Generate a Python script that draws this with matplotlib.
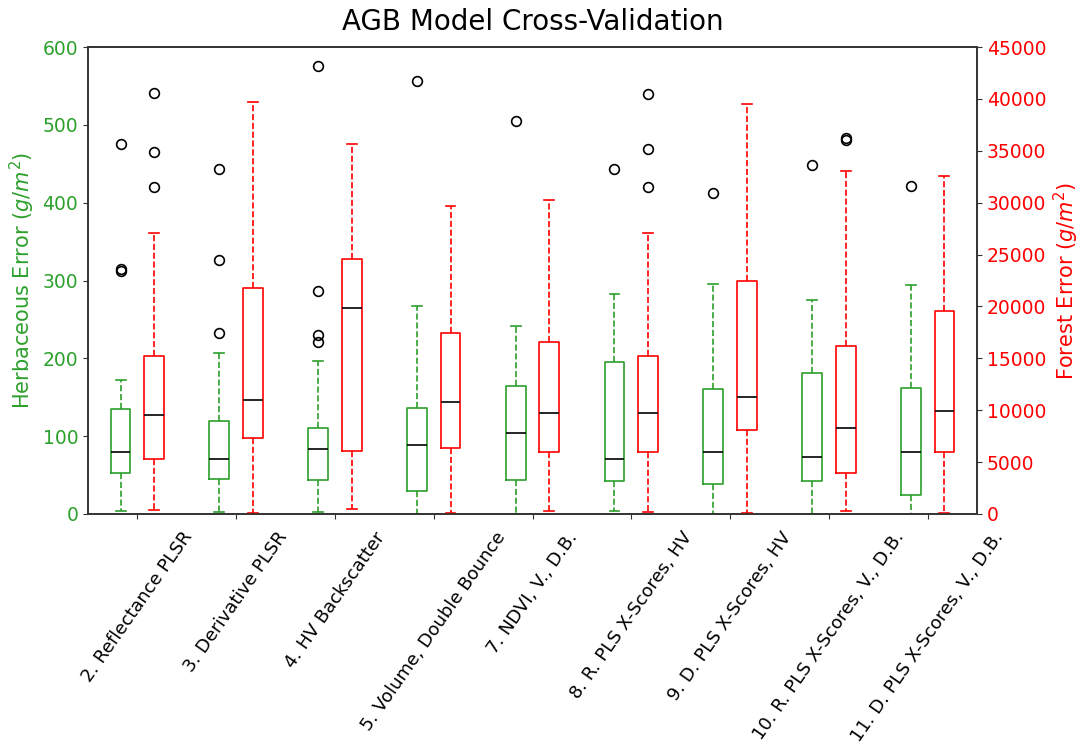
import matplotlib.pyplot as plt

# etiquetas de los modelos
modelos = ['2. Reflectance PLSR', '3. Derivative PLSR', '4. HV Backscatter',
           '5. Volume, Double Bounce', '7. NDVI, V., D.B.',
           '8. R. PLS X-Scores, HV', '9. D. PLS X-Scores, HV',
           '10. R. PLS X-Scores, V., D.B.', '11. D. PLS X-Scores, V., D.B.']

# error herbaceo (g/m2)
herb_lo = [4, 2, 2, 0, 0, 4, 0, 0, 0]
herb_q1 = [52, 45, 44, 29, 44, 42, 39, 43, 25]
herb_med = [79, 71, 83, 88, 104, 70, 79, 73, 79]
herb_q3 = [135, 120, 110, 136, 165, 195, 160, 181, 162]
herb_hi = [172, 207, 197, 267, 241, 283, 295, 275, 294]
herb_out = [[476, 312, 315], [443, 326, 232], [576, 286, 230, 221], [556],
            [505], [443], [413], [449], [421]]

# error forestal (g/m2)
bosq_lo = [380, 50, 450, 50, 320, 190, 50, 290, 50]
bosq_q1 = [5300, 7300, 6100, 6330, 5950, 5950, 8100, 3920, 5950]
bosq_med = [9540, 10980, 19850, 10760, 9760, 9700, 11300, 8260, 9920]
bosq_q3 = [15220, 21750, 24540, 17410, 16600, 15220, 22480, 16190, 19560]
bosq_hi = [27050, 39730, 35650, 29710, 30260, 27050, 39510, 33050, 32600]
bosq_out = [[40540, 34850, 31540], [], [], [], [], [40470, 35170, 31480],
            [], [36000, 36200], []]

verde = '#2ca02c'
rojo = '#ff0000'


def armar_stats(lo, q1, med, q3, hi, out):
    stats = []
    for i in range(len(med)):
        stats.append({'whislo': lo[i], 'q1': q1[i], 'med': med[i],
                      'q3': q3[i], 'whishi': hi[i], 'fliers': out[i]})
    return stats


def dibujar(ax, stats, pos, color):
    ax.bxp(stats, positions=pos, widths=0.2, manage_ticks=False,
           boxprops=dict(color=color, linewidth=1.2),
           whiskerprops=dict(color=color, linestyle='--', linewidth=1.2),
           capprops=dict(color=color, linewidth=1.2),
           medianprops=dict(color='black', linewidth=1.2),
           flierprops=dict(marker='o', markerfacecolor='none',
                           markeredgecolor='black', markersize=7,
                           markeredgewidth=1.2))


plt.rcParams['font.family'] = 'DejaVu Sans'
fig = plt.figure(figsize=(10.81, 7.49), dpi=100)
ax = fig.add_axes([0.0814, 0.3138, 0.8224, 0.6234])
ax2 = ax.twinx()

x = list(range(1, len(modelos) + 1))
dibujar(ax, armar_stats(herb_lo, herb_q1, herb_med, herb_q3, herb_hi, herb_out),
        [p - 0.17 for p in x], verde)
dibujar(ax2, armar_stats(bosq_lo, bosq_q1, bosq_med, bosq_q3, bosq_hi, bosq_out),
        [p + 0.17 for p in x], rojo)

ax.set_xlim(0.5, len(modelos) + 0.5)
ax.set_xticks(x)
ax.set_xticklabels(modelos, rotation=55, fontsize=13)
ax.set_ylim(0, 600)
ax2.set_ylim(0, 45000)

ax.set_ylabel('Herbaceous Error ($g/m^2$)', color=verde, fontsize=15)
ax2.set_ylabel('Forest Error ($g/m^2$)', color=rojo, fontsize=15)
ax.tick_params(axis='y', colors=verde, labelsize=13.5)
ax2.tick_params(axis='y', colors=rojo, labelsize=13.5)
for a in (ax, ax2):
    a.tick_params(axis='y', color='#333333')
    for s in a.spines.values():
        s.set_color('#333333')
        s.set_linewidth(1.2)
ax.tick_params(axis='x', color='#333333', pad=7)

ax.set_title('AGB Model Cross-Validation', fontsize=20, pad=12)

plt.savefig('out.png')
plt.close()
